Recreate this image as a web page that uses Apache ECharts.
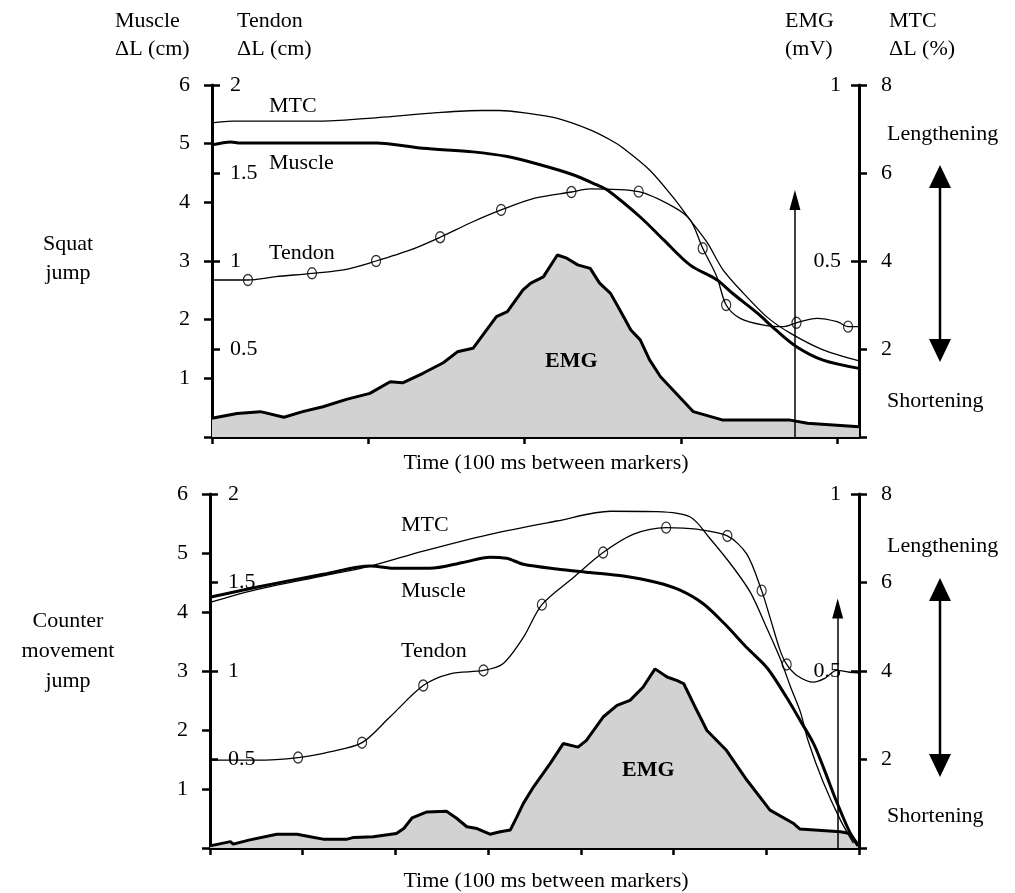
<!DOCTYPE html>
<html><head><meta charset="utf-8">
<script src="https://cdn.jsdelivr.net/npm/echarts@6/dist/echarts.min.js"></script>
<style>html,body{margin:0;padding:0;background:#fff}#c{width:1015px;height:893px}</style>
</head><body><div id="c"></div>
<script>
// ---------- Squat jump (top panel) ----------
const sjMuscleT  = [0, 12, 18, 105, 135, 167, 189, 210, 231, 246, 253, 274, 289, 306, 323, 333, 349, 361, 374, 391, 414];
const sjMuscleCm = [4.98, 5.03, 5.01, 5.01, 4.92, 4.86, 4.78, 4.64, 4.47, 4.30, 4.21, 3.75, 3.36, 2.93, 2.68, 2.45, 2.11, 1.82, 1.54, 1.31, 1.17];
const sjTendonT  = [0, 23, 41, 64, 86, 105, 127, 146, 167, 185, 206, 230, 242, 273, 295, 306, 314, 323, 329, 338, 353, 366, 374, 387, 400, 407, 414];
const sjTendonCm = [0.892, 0.892, 0.911, 0.930, 0.953, 1.0, 1.063, 1.135, 1.223, 1.290, 1.356, 1.392, 1.41, 1.394, 1.309, 1.233, 1.072, 0.911, 0.75, 0.674, 0.636, 0.627, 0.649, 0.674, 0.655, 0.627, 0.627];
const sjMarkerT  = [23, 64, 105, 146, 185, 230, 273, 314, 329, 374, 407];
const sjMarkerCm = [0.892, 0.930, 1.0, 1.135, 1.290, 1.392, 1.394, 1.072, 0.75, 0.649, 0.627];
const sjMtcT     = [0, 13, 71, 106, 144, 172, 184, 199, 221, 242, 255, 263, 280, 295, 306, 317, 327, 340, 355, 370, 391, 414];
const sjMtcPct   = [7.14, 7.18, 7.18, 7.26, 7.37, 7.42, 7.42, 7.37, 7.24, 6.98, 6.75, 6.57, 6.07, 5.45, 4.93, 4.41, 3.80, 3.27, 2.73, 2.36, 1.98, 1.73];
const sjEmgT     = [0, 16, 31, 46, 58, 71, 86, 101, 114, 122, 135, 148, 157, 167, 182, 189, 199, 204, 212, 221, 227, 234, 242, 248, 255, 261, 268, 274, 280, 287, 293, 308, 327, 370, 381, 414];
const sjEmgMv    = [0.053, 0.067, 0.072, 0.056, 0.072, 0.086, 0.107, 0.124, 0.157, 0.154, 0.181, 0.211, 0.242, 0.252, 0.342, 0.356, 0.418, 0.437, 0.455, 0.517, 0.508, 0.489, 0.479, 0.437, 0.408, 0.361, 0.304, 0.276, 0.219, 0.171, 0.143, 0.072, 0.048, 0.048, 0.039, 0.029];
const sjArrowT = 373, sjArrowTopCm = 4.04;

// ---------- Counter movement jump (bottom panel) ----------
const cmMuscleT  = [0, 50, 122, 173, 201, 237, 273, 302, 320, 338, 374, 410, 446, 482, 507, 532, 555, 580, 601, 622, 637, 651, 662, 676, 690, 698];
const cmMuscleCm = [4.25, 4.42, 4.64, 4.78, 4.74, 4.74, 4.84, 4.93, 4.91, 4.81, 4.73, 4.67, 4.61, 4.50, 4.37, 4.14, 3.80, 3.38, 3.05, 2.55, 2.15, 1.77, 1.35, 0.78, 0.27, 0.08];
const cmTendonT  = [0, 50, 95, 129, 164, 194, 230, 259, 295, 316, 338, 358, 392, 424, 457, 492, 525, 558, 579, 595, 604, 615, 622, 633, 651, 663, 676, 690, 699];
const cmTendonCm = [0.496, 0.496, 0.511, 0.543, 0.595, 0.740, 0.918, 0.984, 1.003, 1.041, 1.190, 1.375, 1.528, 1.669, 1.773, 1.810, 1.801, 1.763, 1.66, 1.454, 1.303, 1.115, 1.037, 0.975, 0.937, 0.958, 1.003, 0.993, 0.99];
const cmMarkerT  = [95, 164, 230, 295, 358, 424, 492, 558, 595, 622];
const cmMarkerCm = [0.511, 0.595, 0.918, 1.003, 1.375, 1.669, 1.810, 1.763, 1.454, 1.037];
const cmMtcT     = [0, 50, 122, 173, 230, 302, 374, 432, 482, 518, 539, 564, 583, 601, 615, 626, 637, 645, 661, 680, 694];
const cmMtcPct   = [5.55, 5.84, 6.15, 6.37, 6.71, 7.09, 7.39, 7.61, 7.60, 7.48, 7.00, 6.35, 5.77, 4.95, 4.28, 3.65, 3.06, 2.43, 1.51, 0.63, 0.11];
const cmEmgT     = [0, 22, 25, 43, 72, 94, 108, 122, 148, 155, 176, 201, 209, 218, 234, 255, 266, 277, 288, 302, 313, 324, 331, 338, 349, 367, 381, 397, 406, 424, 439, 453, 467, 480, 493, 504, 511, 525, 536, 557, 579, 604, 629, 636, 680, 690, 699];
const cmEmgMv    = [0.006, 0.018, 0.011, 0.023, 0.039, 0.039, 0.032, 0.025, 0.025, 0.030, 0.032, 0.041, 0.055, 0.085, 0.102, 0.104, 0.084, 0.060, 0.055, 0.039, 0.046, 0.051, 0.088, 0.126, 0.173, 0.239, 0.295, 0.285, 0.304, 0.370, 0.403, 0.417, 0.454, 0.506, 0.483, 0.473, 0.464, 0.389, 0.332, 0.276, 0.192, 0.107, 0.070, 0.054, 0.046, 0.041, 0.006];
const cmArrowT = 677, cmArrowTopCm = 4.06;

// ---------- axes ----------
const sjTimeMax = 414, cmTimeMax = 700;
const sjTimeTicks = [0, 100, 200, 300, 400];
const cmTimeTicks = [0, 100, 200, 300, 400, 500, 600, 700];
const muscleRange = [0, 6], tendonRange = [0, 2], emgRange = [0, 1], mtcRange = [0, 8];

const FONT = 'Liberation Serif';
const zip = (a, b) => a.map((v, i) => [v, b[i]]);
const hideZero = v => (v === 0 ? '' : String(v));

function xAxis(g, max, ticks) {
  return {
    type: 'value', gridIndex: g, min: 0, max: max, interval: 100,
    axisLine: { show: true, lineStyle: { color: '#000', width: 3 } },
    axisTick: { show: true, inside: false, length: 7, customValues: ticks, lineStyle: { color: '#000', width: 2.5 } },
    axisLabel: { show: false }, splitLine: { show: false }
  };
}
function yAxis(g, pos, range, interval, inside, margin, showLine) {
  return {
    type: 'value', gridIndex: g, position: pos, min: range[0], max: range[1], interval: interval,
    axisLine: { show: showLine, onZero: false, lineStyle: { color: '#000', width: 3 } },
    axisTick: { show: true, inside: inside, length: 8, lineStyle: { color: '#000', width: 2.5 } },
    axisLabel: { show: true, inside: inside, margin: margin, formatter: hideZero,
      color: '#000', fontFamily: FONT, fontSize: 22 },
    splitLine: { show: false }
  };
}
function panelAxes(g) {
  return [
    yAxis(g, 'left', muscleRange, 1, false, 22, true),
    yAxis(g, 'left', tendonRange, 0.5, true, 18, false),
    yAxis(g, 'right', emgRange, 0.5, true, 18, false),
    yAxis(g, 'right', mtcRange, 2, false, 22, true)
  ];
}

function lineSeries(xi, yi, data, width, smooth) {
  return { type: 'line', xAxisIndex: xi, yAxisIndex: yi, data: data, symbol: 'none', showSymbol: false,
    smooth: smooth, lineStyle: { color: '#000', width: width }, silent: true, z: 3 };
}
function emgSeries(xi, yi, data) {
  return { type: 'line', xAxisIndex: xi, yAxisIndex: yi, data: data, symbol: 'none', showSymbol: false,
    lineStyle: { color: '#000', width: 3 }, areaStyle: { color: '#d2d2d2', opacity: 1 }, silent: true, z: 2 };
}
function markerSeries(xi, yi, data) {
  return { type: 'scatter', xAxisIndex: xi, yAxisIndex: yi, data: data, symbol: 'circle', symbolSize: [9, 11],
    itemStyle: { color: 'rgba(0,0,0,0)', borderColor: '#000', borderWidth: 1.3 }, silent: true, z: 4 };
}
function arrowMark(t, top) {
  return { silent: true, symbol: ['none', 'triangle'], symbolSize: [11, 20], symbolOffset: [0, 0],
    lineStyle: { color: '#000', width: 1.5, type: 'solid' }, label: { show: false },
    emphasis: { disabled: true },
    data: [[{ coord: [t, 0] }, { coord: [t, top] }]] };
}

const sjMuscleSeries = lineSeries(0, 0, zip(sjMuscleT, sjMuscleCm), 3, 0.3);
sjMuscleSeries.markLine = arrowMark(sjArrowT, sjArrowTopCm);
const cmMuscleSeries = lineSeries(1, 4, zip(cmMuscleT, cmMuscleCm), 3, 0.3);
cmMuscleSeries.markLine = arrowMark(cmArrowT, cmArrowTopCm);

function txt(x, y, text, opt) {
  opt = opt || {};
  return { type: 'text', x: x, y: y, silent: true, z: 10,
    style: { text: text, fill: '#000', font: (opt.bold ? 'bold ' : '') + (opt.size || 22) + 'px "' + FONT + '"',
      textAlign: opt.align || 'left', textVerticalAlign: 'middle', lineHeight: opt.lh || 28 } };
}
function dblArrow(x, y1, y2) {
  const hw = 11, hl = 23;
  return [
    { type: 'line', silent: true, shape: { x1: x, y1: y1 + hl - 2, x2: x, y2: y2 - hl + 2 }, style: { stroke: '#000', lineWidth: 2.5 } },
    { type: 'polygon', silent: true, shape: { points: [[x, y1], [x - hw, y1 + hl], [x + hw, y1 + hl]] }, style: { fill: '#000' } },
    { type: 'polygon', silent: true, shape: { points: [[x, y2], [x - hw, y2 - hl], [x + hw, y2 - hl]] }, style: { fill: '#000' } }
  ];
}

const option = {
  backgroundColor: '#fff',
  animation: false,
  grid: [
    { left: 212, right: 156, top: 85, height: 352 },
    { left: 210, right: 156, top: 494, height: 354 }
  ],
  xAxis: [xAxis(0, sjTimeMax, sjTimeTicks), xAxis(1, cmTimeMax, cmTimeTicks)],
  yAxis: panelAxes(0).concat(panelAxes(1)),
  series: [
    emgSeries(0, 2, zip(sjEmgT, sjEmgMv)),
    sjMuscleSeries,
    lineSeries(0, 1, zip(sjTendonT, sjTendonCm), 1.3, 0.3),
    markerSeries(0, 1, zip(sjMarkerT, sjMarkerCm)),
    lineSeries(0, 3, zip(sjMtcT, sjMtcPct), 1.3, 0.3),
    emgSeries(1, 6, zip(cmEmgT, cmEmgMv)),
    cmMuscleSeries,
    lineSeries(1, 5, zip(cmTendonT, cmTendonCm), 1.3, 0.3),
    markerSeries(1, 5, zip(cmMarkerT, cmMarkerCm)),
    lineSeries(1, 7, zip(cmMtcT, cmMtcPct), 1.3, 0.3)
  ],
  graphic: [
    txt(115, 35, 'Muscle\nΔL (cm)'),
    txt(237, 35, 'Tendon\nΔL (cm)'),
    txt(785, 35, 'EMG\n(mV)'),
    txt(889, 35, 'MTC\nΔL (%)'),
    txt(68, 259, 'Squat\njump', { align: 'center', lh: 29 }),
    txt(68, 651, 'Counter\nmovement\njump', { align: 'center', lh: 30 }),
    txt(546, 463, 'Time (100 ms between markers)', { align: 'center' }),
    txt(546, 881, 'Time (100 ms between markers)', { align: 'center' }),
    txt(887, 134, 'Lengthening'),
    txt(887, 401, 'Shortening'),
    txt(887, 546, 'Lengthening'),
    txt(887, 816, 'Shortening'),
    txt(269, 106, 'MTC'),
    txt(269, 163, 'Muscle'),
    txt(269, 253, 'Tendon'),
    txt(545, 361, 'EMG', { bold: true }),
    txt(401, 525, 'MTC'),
    txt(401, 591, 'Muscle'),
    txt(401, 651, 'Tendon'),
    txt(622, 770, 'EMG', { bold: true })
  ].concat(dblArrow(940, 165, 362), dblArrow(940, 578, 777))
};

const chart = echarts.init(document.getElementById('c'), null, { renderer: 'canvas' });
chart.setOption(option);
</script></body></html>
